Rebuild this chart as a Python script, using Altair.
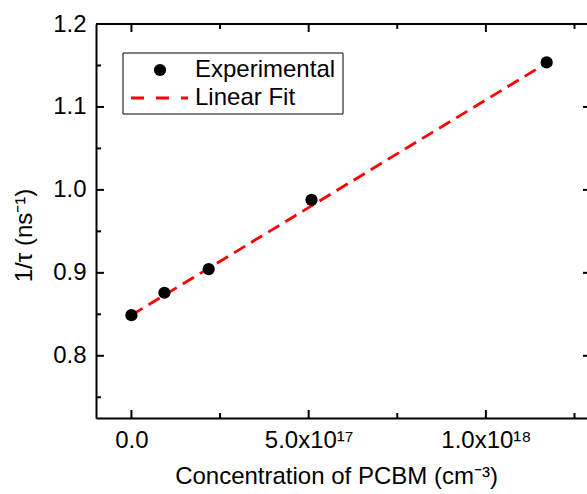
import altair as alt
import pandas as pd

# ---- data ----
CONC = [0.0, 9.3e16, 2.18e17, 5.08e17, 1.1715e18]
INV_TAU = [0.849, 0.876, 0.9045, 0.988, 1.1537]

FIT_X = [0.0, 1.1715e18]
FIT_Y = [0.849, 1.153]

X_DOMAIN = [-1.0e17, 1.2853e18]
Y_DOMAIN = [0.725, 1.2]

X_MAJOR = [0.0, 5.0e17, 1.0e18]
X_MAJOR_LABELS = ["0.0", "5.0x10¹⁷", "1.0x10¹⁸"]
X_MINOR = [2.5e17, 7.5e17, 1.25e18]
Y_MAJOR = [0.8, 0.9, 1.0, 1.1, 1.2]
Y_MINOR = [0.75, 0.85, 0.95, 1.05, 1.15]

LEGEND_LABELS = ["Experimental", "Linear Fit"]
X_TITLE = "Concentration of PCBM (cm⁻³)"
Y_TITLE = "1/τ (ns⁻¹)"

W, H = 491, 394
FONT = "Liberation Sans"
FS = 24

pts = pd.DataFrame({"x": CONC, "y": INV_TAU})
fit = pd.DataFrame({"x": FIT_X, "y": FIT_Y})
xmaj = pd.DataFrame({"x": X_MAJOR})
xmin = pd.DataFrame({"x": X_MINOR})
ymaj = pd.DataFrame({"y": Y_MAJOR})
ymin = pd.DataFrame({"y": Y_MINOR})
one = pd.DataFrame({"a": [0]})

label_expr = " : ".join(
    f"datum.value == {v} ? '{l}'" for v, l in zip(X_MAJOR, X_MAJOR_LABELS)
) + " : ''"

X = alt.X(
    "x:Q",
    scale=alt.Scale(domain=X_DOMAIN, nice=False, zero=False),
    axis=alt.Axis(
        values=X_MAJOR, labelExpr=label_expr, title=X_TITLE,
        ticks=False, grid=False, labelPadding=10, titlePadding=12,
        titleX=240,
    ),
)
Y = alt.Y(
    "y:Q",
    scale=alt.Scale(domain=Y_DOMAIN, nice=False, zero=False),
    axis=alt.Axis(
        values=Y_MAJOR, format=".1f", title=Y_TITLE,
        ticks=False, grid=False, labelPadding=10, titlePadding=16,
        titleY=211,
    ),
)

fit_line = alt.Chart(fit).mark_line(
    color="#ff0000", strokeWidth=2.8, strokeDash=[13, 7]
).encode(x=X, y=Y)

points = alt.Chart(pts).mark_point(
    filled=True, color="black", size=150, opacity=1
).encode(x=X, y=Y)

tick_col = "black"
bot_maj = alt.Chart(xmaj).mark_rule(color=tick_col, strokeWidth=2).encode(
    x=X, y=alt.value(H), y2=alt.value(H - 8))
bot_min = alt.Chart(xmin).mark_rule(color=tick_col, strokeWidth=2).encode(
    x=X, y=alt.value(H), y2=alt.value(H - 5))
top_maj = alt.Chart(xmaj).mark_rule(color=tick_col, strokeWidth=2).encode(
    x=X, y=alt.value(0), y2=alt.value(8))
top_min = alt.Chart(xmin).mark_rule(color=tick_col, strokeWidth=2).encode(
    x=X, y=alt.value(0), y2=alt.value(5))
left_maj = alt.Chart(ymaj).mark_rule(color=tick_col, strokeWidth=2).encode(
    y=Y, x=alt.value(0), x2=alt.value(8))
left_min = alt.Chart(ymin).mark_rule(color=tick_col, strokeWidth=2).encode(
    y=Y, x=alt.value(0), x2=alt.value(5))
right_maj = alt.Chart(ymaj).mark_rule(color=tick_col, strokeWidth=2).encode(
    y=Y, x=alt.value(W - 4), x2=alt.value(W))
top_line = alt.Chart(one).mark_rule(color=tick_col, strokeWidth=2).encode(
    x=alt.value(0), x2=alt.value(W), y=alt.value(0))

leg_box = alt.Chart(one).mark_rect(
    fill="white", stroke="black", strokeWidth=1
).encode(x=alt.value(27), x2=alt.value(247), y=alt.value(29), y2=alt.value(90))
leg_pt = alt.Chart(one).mark_point(
    filled=True, color="black", size=150, opacity=1
).encode(x=alt.value(64), y=alt.value(46))
leg_line = alt.Chart(one).mark_rule(
    color="#ff0000", strokeWidth=2.8, strokeDash=[13, 12]
).encode(x=alt.value(35), x2=alt.value(92), y=alt.value(74))
leg_t1 = alt.Chart(one).mark_text(
    align="left", baseline="middle", font=FONT, fontSize=FS, color="black"
).encode(x=alt.value(99), y=alt.value(46), text=alt.value(LEGEND_LABELS[0]))
leg_t2 = alt.Chart(one).mark_text(
    align="left", baseline="middle", font=FONT, fontSize=FS, color="black"
).encode(x=alt.value(99), y=alt.value(74), text=alt.value(LEGEND_LABELS[1]))

chart = alt.layer(
    fit_line, points,
    bot_maj, bot_min, top_maj, top_min, left_maj, left_min, right_maj, top_line,
    leg_box, leg_pt, leg_line, leg_t1, leg_t2,
).properties(
    width=W, height=H,
    padding={"left": 96, "top": 24, "right": 0, "bottom": 76},
    autosize=alt.AutoSizeParams(type="none"),
).configure_view(
    stroke=None
).configure_axis(
    domainColor="black", domainWidth=2,
    labelFont=FONT, labelFontSize=FS, labelColor="black",
    titleFont=FONT, titleFontSize=FS, titleColor="black", titleFontWeight="normal",
)

chart.save("out.html", embed_options={"renderer": "svg", "actions": False})
